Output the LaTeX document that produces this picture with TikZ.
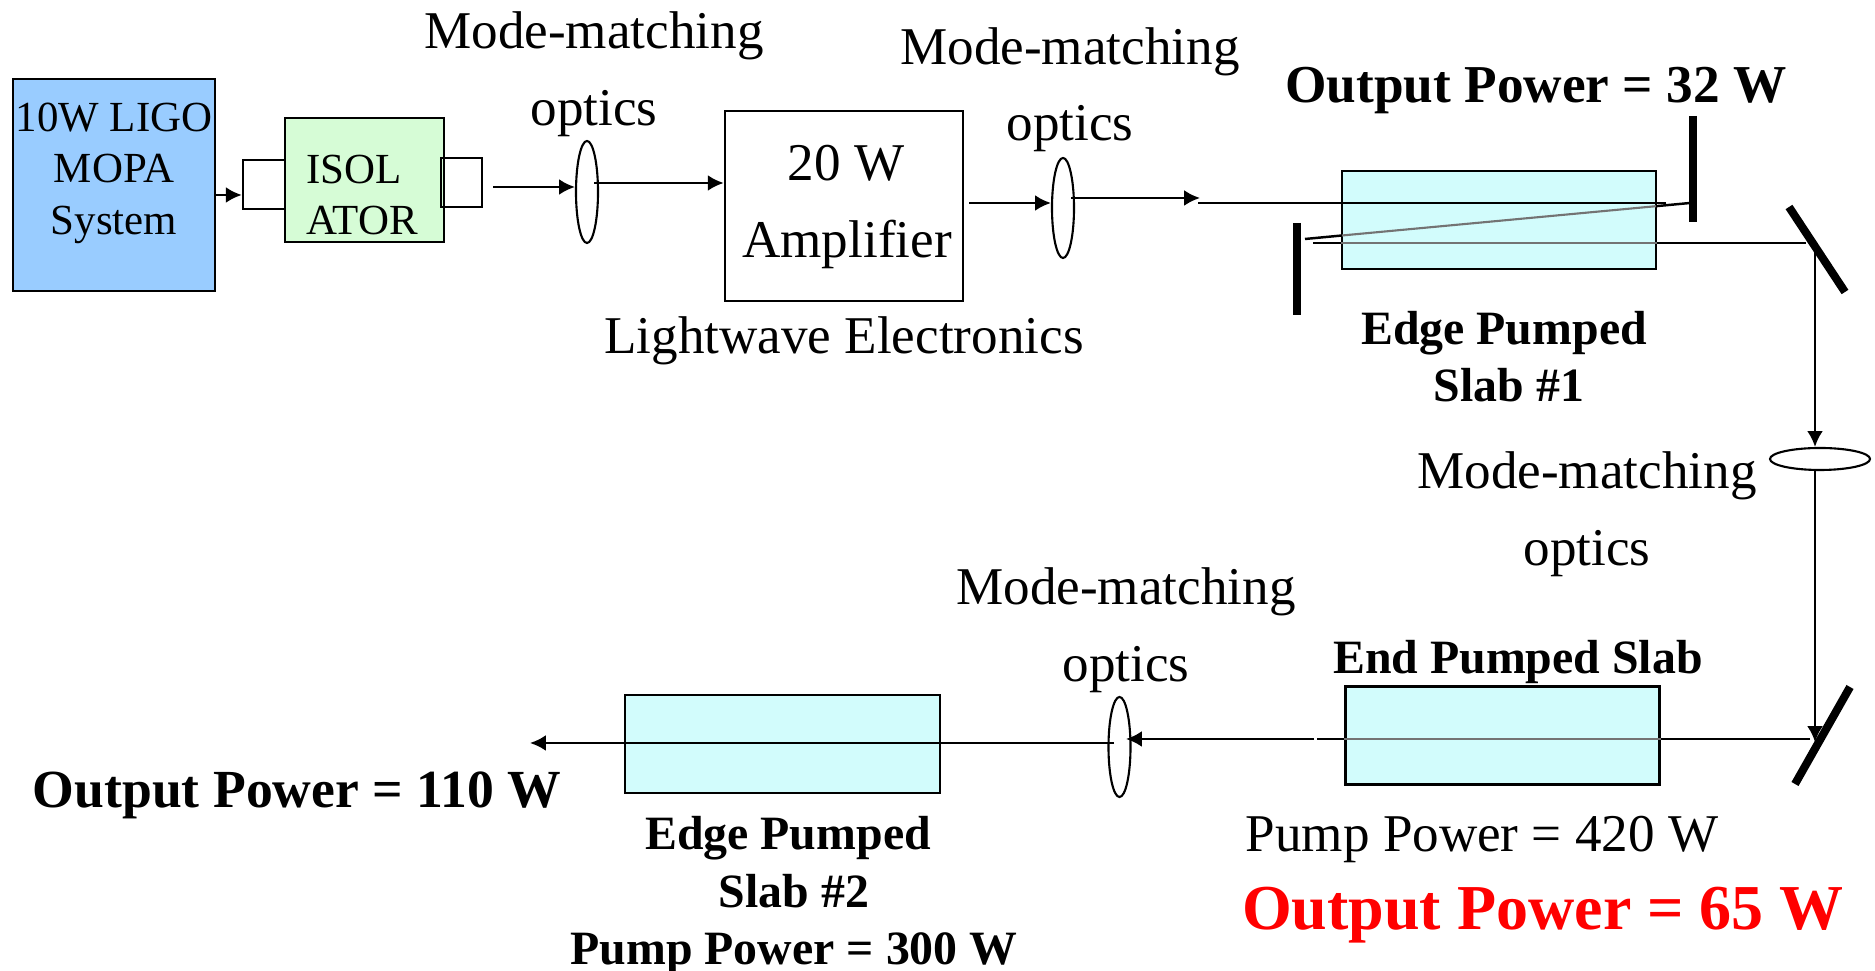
\documentclass[tikz,border=0pt]{standalone}
\usepackage{fontspec}
\setmainfont{Liberation Serif}
\usetikzlibrary{shapes.geometric, arrows.meta}
\definecolor{mopablue}{HTML}{99CCFF}
\definecolor{isogreen}{HTML}{D6FCD6}
\definecolor{slabcyan}{HTML}{D2FCFC}
\tikzset{
    lbl/.style={inner sep=0pt, font=\fontsize{15.1}{18}\selectfont},
    lblsmall/.style={inner sep=0pt, font=\fontsize{12.2}{14}\selectfont},
    lblbold/.style={inner sep=0pt, font=\fontsize{15.25}{18}\selectfont\bfseries},
    subbold/.style={inner sep=0pt, font=\fontsize{13.6}{16}\selectfont\bfseries},
    box/.style={draw, inner sep=0pt, line width=.7pt},
    lens/.style={draw, ellipse, inner sep=0pt, line width=.6pt},
    beam/.style={line width=.7pt},
    beamin/.style={line width=.6pt, black!55},
    tip/.style={-{Latex[length=4.5pt,width=4.5pt]}},
    mirror/.style={line width=2.3pt}
}
\begin{document}
\begin{tikzpicture}[x=.01cm, y=-.01cm]
        \useasboundingbox (0,0) rectangle (1875,971);
        % boxes
        \node[box, fill=mopablue, minimum width=2.02cm, minimum height=2.12cm] (mopa) at (114,185){};
        \node[box, fill=isogreen, minimum width=1.59cm, minimum height=1.24cm] (iso) at (364.5,180){};
        \node[box, minimum width=.42cm, minimum height=.49cm] (isoin) at (264,184.5){};
        \node[box, minimum width=.41cm, minimum height=.49cm] (isoout) at (461.5,182.5){};
        \node[box, minimum width=2.38cm, minimum height=1.9cm] (amp) at (844,206){};
        \node[box, fill=slabcyan, minimum width=3.14cm, minimum height=.98cm] (slabA) at (1499,220){};
        \node[box, fill=slabcyan, minimum width=3.14cm, minimum height=.98cm] (slabB) at (1502.5,735.5){};
        \node[box, fill=slabcyan, minimum width=3.15cm, minimum height=.98cm] (slabC) at (782.5,744){};
        % lenses
        \node[lens, minimum width=.22cm, minimum height=1.02cm] (lensA) at (587,192){};
        \node[lens, minimum width=.22cm, minimum height=1cm] (lensB) at (1063,208){};
        \node[lens, minimum width=1cm, minimum height=.22cm] (lensC) at (1820,459){};
        \node[lens, minimum width=.22cm, minimum height=1cm] (lensD) at (1119.5,747){};
        % free ends of the beams
        \coordinate (a1) at (216,195);
        \coordinate (a2) at (493,187);
        \coordinate (a3) at (594,183);
        \coordinate (a4) at (969,203);
        \coordinate (a5) at (1071,198);
        \coordinate (a6) at (1200,198);
        \coordinate (b1) at (1198,203);
        \coordinate (b2) at (1666,203);
        \coordinate (c1) at (1305,239);
        \coordinate (c2) at (1690,203);
        \coordinate (c3) at (1342,235.5);
        \coordinate (c4) at (1656,206.2);
        \coordinate (d1) at (1313,243);
        \coordinate (d2) at (1806,243);
        \coordinate (e1) at (1815,250);
        \coordinate (e2) at (1815,470);
        \coordinate (e3) at (1815,742);
        \coordinate (f1) at (1810,739);
        \coordinate (f2) at (1317,739);
        \coordinate (f3) at (1314,739);
        \coordinate (f4) at (1126,739);
        \coordinate (g1) at (1114,743);
        \coordinate (g2) at (530,743);
        % beams
        \draw[beam, tip] (a1) -- (a1 -| isoin.west);
        \draw[beam, tip] (a2) -- (a2 -| lensA.west);
        \draw[beam, tip] (a3) -- (a3 -| amp.west);
        \draw[beam, tip] (a4) -- (a4 -| lensB.west);
        \draw[beam, tip] (a5) -- (a6);
        \draw[beam] (b1) -- (b2);
        \draw[beam] (c1) -- (c3);
        \draw[beamin] (c3) -- (c4);
        \draw[beam] (c4) -- (c2);
        \draw[beam] (d1) -- (d1 -| slabA.west);
        \draw[beamin] (d1 -| slabA.west) -- (d1 -| slabA.east);
        \draw[beam] (d1 -| slabA.east) -- (d2);
        \draw[beam, tip] (e1) -- (e1 |- lensC.north);
        \draw[beam, tip] (e2) -- (e3);
        \draw[beam] (f1) -- (f1 -| slabB.east);
        \draw[beamin] (f1 -| slabB.east) -- (f1 -| slabB.west);
        \draw[beam] (f1 -| slabB.west) -- (f2);
        \draw[beam, tip] (f3) -- (f4);
        \draw[beam, tip] (g1) -- (g2);
        % mirrors
        \coordinate (m1) at (1693,116);
        \coordinate (m2) at (1693,222);
        \coordinate (m3) at (1297,223);
        \coordinate (m4) at (1297,315);
        \coordinate (m5) at (1789,207);
        \coordinate (m6) at (1845,292);
        \coordinate (m7) at (1850,687);
        \coordinate (m8) at (1795,784);
        \draw[mirror] (m1) -- (m2);
        \draw[mirror] (m3) -- (m4);
        \draw[mirror] (m5) -- (m6);
        \draw[mirror] (m7) -- (m8);
        % labels
        \node[lblsmall] (mopaA) at (114,118){10W LIGO};
        \node[lblsmall] (mopaB) at (114,169){MOPA};
        \node[lblsmall] (mopaC) at (114,225){System};
        \node[lblsmall, anchor=west] (isoA) at (306,170){ISOL};
        \node[lblsmall, anchor=west] (isoB) at (306,221){ATOR};
        \node[lbl] (mmA) at (594,36){Mode-matching};
        \node[lbl] (optA) at (594,114){optics};
        \node[lbl] (mmB) at (1070,52){Mode-matching};
        \node[lbl] (optB) at (1070,129){optics};
        \node[lbl] (mmC) at (1587,476){Mode-matching};
        \node[lbl] (optC) at (1587,554){optics};
        \node[lbl] (mmD) at (1126,592){Mode-matching};
        \node[lbl] (optD) at (1126,670){optics};
        \node[lbl] (ampA) at (846,163){20 W};
        \node[lbl] (ampB) at (847,244){Amplifier};
        \node[lbl] (lw) at (844,341){Lightwave Electronics};
        \node[lblbold, font=\fontsize{15.15}{18}\selectfont\bfseries] (outA) at (1536,91){Output Power = 32 W};
        \node[subbold] (edgeA) at (1504,333){Edge Pumped};
        \node[subbold] (edgeB) at (1509,385){Slab \#1};
        \node[subbold] (endA) at (1518,662){End Pumped Slab};
        \node[lbl] (pumpA) at (1482,840){Pump Power = 420 W};
        \node[lblbold, font=\fontsize{18.2}{22}\selectfont\bfseries, text=red] (outB) at (1543,915){Output Power = 65 W};
        \node[lblbold] (outC) at (297,795){Output Power = 110 W};
        \node[subbold] (edgeC) at (788,838){Edge Pumped};
        \node[subbold] (edgeD) at (794,891){Slab \#2};
        \node[subbold] (pumpB) at (794,954){Pump Power = 300 W};
    \end{tikzpicture}
\end{document}
